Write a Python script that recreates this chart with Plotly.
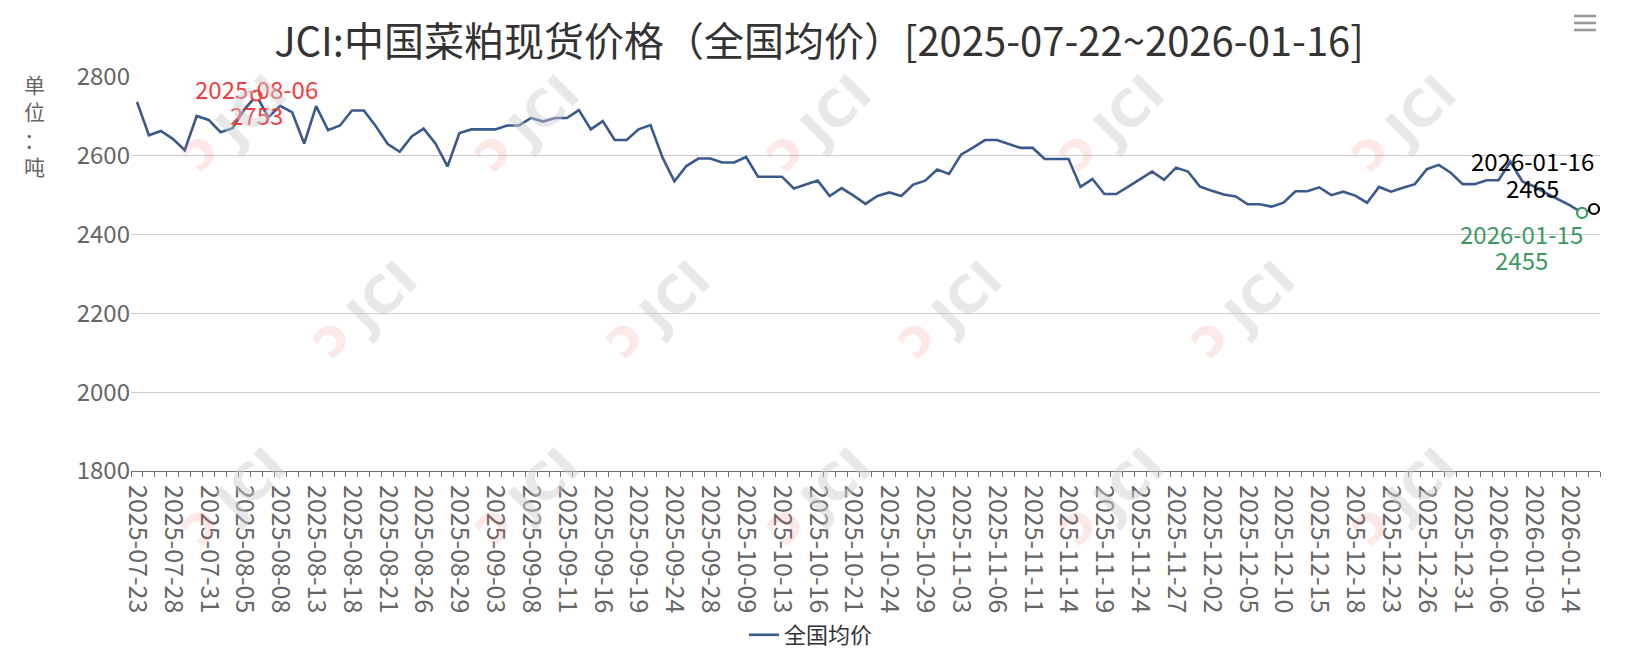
import plotly.graph_objects as go

# ---------------- data ----------------
dates = [
    "2025-07-23", "2025-07-24", "2025-07-25", "2025-07-28", "2025-07-29", "2025-07-30", "2025-07-31",
    "2025-08-01", "2025-08-04", "2025-08-05", "2025-08-06", "2025-08-07", "2025-08-08", "2025-08-11",
    "2025-08-12", "2025-08-13", "2025-08-14", "2025-08-15", "2025-08-18", "2025-08-19", "2025-08-20",
    "2025-08-21", "2025-08-22", "2025-08-25", "2025-08-26", "2025-08-27", "2025-08-28", "2025-08-29",
    "2025-09-01", "2025-09-02", "2025-09-03", "2025-09-04", "2025-09-05", "2025-09-08", "2025-09-09",
    "2025-09-10", "2025-09-11", "2025-09-12", "2025-09-15", "2025-09-16", "2025-09-17", "2025-09-18",
    "2025-09-19", "2025-09-22", "2025-09-23", "2025-09-24", "2025-09-25", "2025-09-26", "2025-09-28",
    "2025-09-29", "2025-09-30", "2025-10-09", "2025-10-10", "2025-10-11", "2025-10-13", "2025-10-14",
    "2025-10-15", "2025-10-16", "2025-10-17", "2025-10-20", "2025-10-21", "2025-10-22", "2025-10-23",
    "2025-10-24", "2025-10-27", "2025-10-28", "2025-10-29", "2025-10-30", "2025-10-31", "2025-11-03",
    "2025-11-04", "2025-11-05", "2025-11-06", "2025-11-07", "2025-11-10", "2025-11-11", "2025-11-12",
    "2025-11-13", "2025-11-14", "2025-11-17", "2025-11-18", "2025-11-19", "2025-11-20", "2025-11-21",
    "2025-11-24", "2025-11-25", "2025-11-26", "2025-11-27", "2025-11-28", "2025-12-01", "2025-12-02",
    "2025-12-03", "2025-12-04", "2025-12-05", "2025-12-08", "2025-12-09", "2025-12-10", "2025-12-11",
    "2025-12-12", "2025-12-15", "2025-12-16", "2025-12-17", "2025-12-18", "2025-12-19", "2025-12-22",
    "2025-12-23", "2025-12-24", "2025-12-25", "2025-12-26", "2025-12-29", "2025-12-30", "2025-12-31",
    "2026-01-04", "2026-01-05", "2026-01-06", "2026-01-07", "2026-01-08", "2026-01-09", "2026-01-12",
    "2026-01-13", "2026-01-14", "2026-01-15", "2026-01-16",
]

prices = [
    2737, 2652, 2663, 2643, 2614, 2701, 2691,
    2660, 2670, 2718, 2753, 2698, 2727, 2710,
    2631, 2726, 2665, 2677, 2715, 2715, 2675,
    2630, 2610, 2649, 2669, 2631, 2573, 2658,
    2667, 2667, 2667, 2677, 2677, 2696, 2687,
    2696, 2696, 2716, 2667, 2688, 2640, 2640,
    2667, 2678, 2596, 2535, 2574, 2593, 2593,
    2583, 2583, 2597, 2547, 2547, 2547, 2517,
    2527, 2537, 2498, 2518, 2499, 2478, 2498,
    2507, 2498, 2527, 2537, 2565, 2554, 2603,
    2621, 2640, 2640, 2630, 2620, 2620, 2592,
    2592, 2592, 2521, 2541, 2503, 2503, 2522,
    2542, 2560, 2539, 2570, 2560, 2522, 2511,
    2502, 2497, 2477, 2477, 2471, 2481, 2510,
    2510, 2520, 2500, 2509, 2499, 2481, 2521,
    2509, 2519, 2528, 2566, 2577, 2557, 2528,
    2528, 2538, 2538, 2585, 2535, 2522, 2505,
    2489, 2474, 2455, 2465,
]

series_name = "全国均价"
title_text = "JCI:中国菜粕现货价格（全国均价）[2025-07-22~2026-01-16]"
y_ticks = [1800, 2000, 2200, 2400, 2600, 2800]
y_unit = "单<br>位<br>：<br>吨"

# ---------------- layout geometry ----------------
# page body adds an 8px offset; positions below are target screen pixels
OFF = 8
W, H = 1638, 660
PLOT_L, PLOT_T, PW, PH = 131, 77, 1469, 394
ML, MT = PLOT_L - OFF, PLOT_T - OFF
MR = W - ML - PW
MB = H - MT - PH

FONT = "Noto Sans CJK SC, Noto Sans, sans-serif"
LINE_COLOR = "#3b5a8c"

idx = list(range(len(dates)))
label_idx = idx[::3]
label_txt = [dates[i] for i in label_idx]

i_max = prices.index(max(prices))
i_min = prices.index(min(prices))
i_last = len(prices) - 1

fig = go.Figure()
fig.add_trace(go.Scatter(
    x=idx, y=prices, mode="lines", name=series_name,
    line=dict(color=LINE_COLOR, width=2.6),
    hoverinfo="skip",
))

def mark(i, color):
    fig.add_trace(go.Scatter(
        x=[idx[i]], y=[prices[i]], mode="markers", showlegend=False,
        marker=dict(symbol="circle", size=10, color="white",
                    line=dict(color=color, width=2.2)),
        hoverinfo="skip",
    ))

RED, GREEN, BLACK = "#ee3f3f", "#3e9a5f", "#000000"
mark(i_max, RED)
mark(i_min, GREEN)
mark(i_last, BLACK)

def px_x(px):
    return (px - PLOT_L) / PW

def px_y(py):
    return (PLOT_T + PH - py) / PH

annotations = []

def point_label(i, color, xshift, y_date, y_val):
    for txt, ys in ((dates[i], y_date), (str(prices[i]), y_val)):
        annotations.append(dict(
            x=idx[i], y=prices[i], xref="x", yref="y", text=txt, showarrow=False,
            xanchor="center", yanchor="middle", xshift=xshift, yshift=ys,
            font=dict(family=FONT, size=24, color=color)))

point_label(i_max, RED, 0, 7, -19)
point_label(i_min, GREEN, -61, -21, -47)
point_label(i_last, BLACK, -62, 48, 21)

annotations.append(
    # vertical unit label
    dict(x=px_x(34.5), y=px_y(125), xref="paper", yref="paper",
         text=y_unit, showarrow=False, xanchor="center", yanchor="middle",
         font=dict(family=FONT, size=21, color="#666666")))

# watermarks
wm_rows = [(112, [250, 543, 835, 1128, 1420]),
           (298, [381, 674, 966, 1259]),
           (485, [250, 543, 835, 1128, 1420])]
for py, xs in wm_rows:
    for px in xs:
        annotations.append(dict(
            x=px_x(px), y=px_y(py), xref="paper", yref="paper",
            xanchor="center", yanchor="middle",
            text="<b>JCI</b>", showarrow=False, textangle=-45,
            font=dict(family="DejaVu Sans, sans-serif", size=50, color="rgba(205,205,205,0.45)"),
        ))
        annotations.append(dict(
            x=px_x(px - 52), y=px_y(py + 38), xref="paper", yref="paper",
            xanchor="center", yanchor="middle",
            text="<b>ↄ</b>", showarrow=False, textangle=-45,
            font=dict(family="DejaVu Sans, sans-serif", size=54, color="rgba(240,110,110,0.16)"),
        ))

# toolbox "menu" icon drawn as three bars
shapes = []
for by in (16, 23, 30):
    shapes.append(dict(type="line", xref="paper", yref="paper",
                       x0=px_x(1574), x1=px_x(1596), y0=px_y(by), y1=px_y(by),
                       line=dict(color="#9a9a9a", width=2.6)))

fig.update_layout(
    width=W, height=H,
    margin=dict(l=ML, r=MR, t=MT, b=MB, autoexpand=False),
    paper_bgcolor="white", plot_bgcolor="white",
    title=dict(text=title_text, x=(819 - OFF) / W, xref="container", xanchor="center",
               y=1 - (42 - OFF) / H, yref="container", yanchor="middle",
               font=dict(family=FONT, size=40, color="#333333")),
    font=dict(family=FONT, color="#666666"),
    showlegend=True,
    legend=dict(orientation="h", x=(811 - OFF) / W, xref="container", xanchor="center",
                y=1 - (635 - OFF) / H, yref="container", yanchor="middle",
                font=dict(family=FONT, size=22, color="#333333"),
                itemwidth=30),
    annotations=annotations,
    shapes=shapes,
    xaxis=dict(
        range=[-0.5, len(dates) - 0.5], automargin=False,
        tickmode="array", tickvals=label_idx, ticktext=label_txt,
        tickangle=90, ticks="", showgrid=False, zeroline=False,
        showline=True, linecolor="#6e7079", linewidth=1,
        ticklabelstandoff=8,
        tickfont=dict(family=FONT, size=25, color="#666666"),
        minor=dict(ticks="outside", tick0=-0.5, dtick=1, ticklen=5,
                   tickcolor="#6e7079", showgrid=False),
    ),
    yaxis=dict(
        range=[1800, 2800], tickmode="array", tickvals=y_ticks, automargin=False,
        showgrid=True, gridcolor="#cccccc", gridwidth=1,
        zeroline=False, showline=False, ticks="",
        tickfont=dict(family=FONT, size=24, color="#666666"),
    ),
)

fig.write_html("out.html")
